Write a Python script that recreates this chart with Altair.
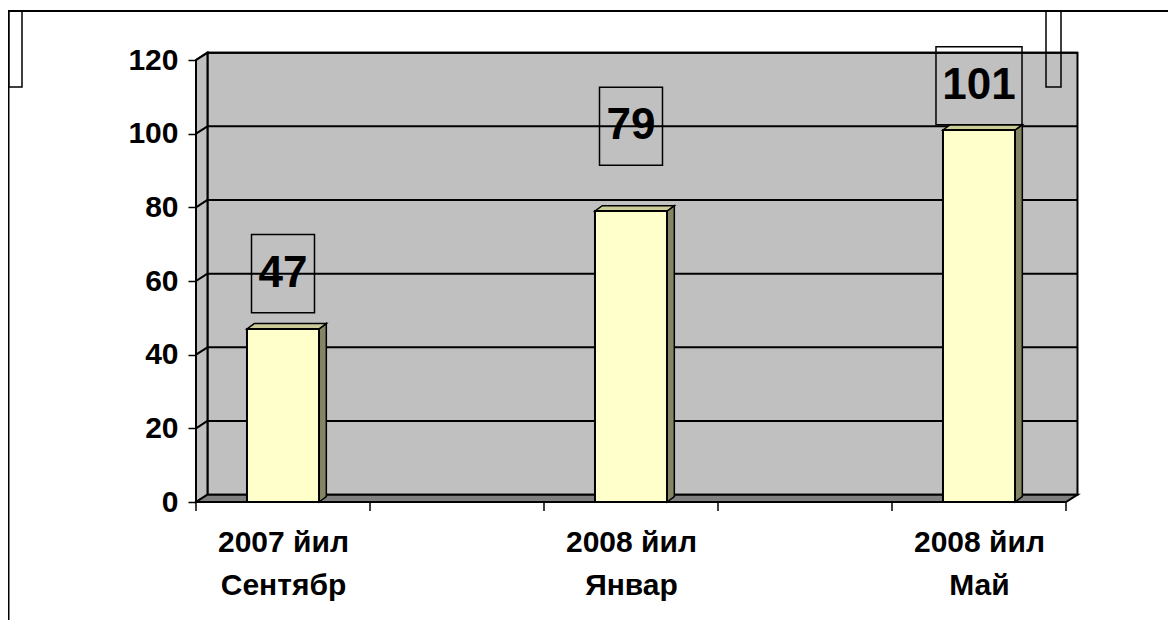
import json
import altair as alt
import pandas as pd

# ---------------- data ----------------
categories = [["2007 йил", "Сентябр"], ["2008 йил", "Январ"], ["2008 йил", "Май"]]
values = [47, 79, 101]
value_labels = ["47", "79", "101"]
y_ticks = [0, 20, 40, 60, 80, 100, 120]
x_tick_marks = [-0.25, 0.25, 0.75, 1.25, 1.75, 2.25]

# ---------------- style ----------------
label_lift = [15, 23, 12]          # label box centre above bar top (value units)
X0, X1 = -0.25, 2.25               # category axis extent (index units)
Y0, Y1 = 0, 120
DX, DY = 0.033, 2.0                # wall depth
HW = 0.1035                        # bar half width
BDX, BDY = 0.021, 1.45             # bar depth
BOX_HH = 10.6
BOX_HW = {2: 0.0905, 3: 0.1236}

W, H = 870, 442
PAD = {"left": 188, "top": 52, "right": 102, "bottom": 118}
FONT = "Liberation Sans"
WALL = "#C0C0C0"
FLOOR = "#808080"
BAR_FRONT = "#FFFFCC"
BAR_TOP = "#CCCC99"
BAR_SIDE = "#858566"

xs = alt.Scale(domain=[X0, X1], nice=False, zero=False)
ys = alt.Scale(domain=[Y0, Y1], nice=False, zero=False)

label_expr = json.dumps(categories, ensure_ascii=False) + "[round(datum.value)]"

XA = alt.Axis(values=[0, 1, 2], labelExpr=label_expr, ticks=False, tickSize=0, domain=False,
              grid=False, title=None, labelFont=FONT, labelFontSize=30, labelFontWeight="bold",
              labelColor="black", labelPadding=25, labelLineHeight=43, labelOverlap=False,
              labelFlush=False)
YA = alt.Axis(values=y_ticks, domain=False, grid=False, title=None, ticks=True, tickSize=8,
              tickColor="black", tickWidth=1.5, labelFont=FONT, labelFontSize=30,
              labelFontWeight="bold", labelColor="black", labelPadding=10,
              labelFlush=False, labelOverlap=False)


def xq(field):
    return alt.X(field, type="quantitative", scale=xs, axis=XA)


def yq(field, **kw):
    return alt.Y(field, type="quantitative", scale=ys, axis=YA, **kw)


# ---------------- derived tables ----------------
def add_poly(rows, name, fill, pts):
    for x, y, y2 in pts:
        rows.append(dict(poly=name, fill=fill, x=x, y=y, y2=y2))


wall_polys = []
add_poly(wall_polys, "left", WALL, [(X0, Y0, Y1), (X0 + DX, Y0 + DY, Y1 + DY)])
add_poly(wall_polys, "floor", FLOOR, [(X0, 0, 0), (X0 + DX, 0, DY), (X1, 0, DY), (X1 + DX, DY, DY)])
wall_df = pd.DataFrame(wall_polys)

back_df = pd.DataFrame([dict(x=X0 + DX, x2=X1 + DX, y=Y0 + DY, y2=Y1 + DY)])

grid_rows = []
for v in y_ticks[1:]:
    grid_rows.append(dict(x=X0 + DX, x2=X1 + DX, y=v + DY, y2=v + DY))
    grid_rows.append(dict(x=X0, x2=X0 + DX, y=v, y2=v + DY))
grid_df = pd.DataFrame(grid_rows)

bar_polys = []
front_rows = []
label_rows = []
for i, (v, lab, lift) in enumerate(zip(values, value_labels, label_lift)):
    add_poly(bar_polys, f"side{i}", BAR_SIDE,
             [(i + HW, 0, v), (i + HW + BDX, BDY, v + BDY)])
    add_poly(bar_polys, f"top{i}", BAR_TOP,
             [(i - HW, v, v), (i - HW + BDX, v, v + BDY),
              (i + HW, v, v + BDY), (i + HW + BDX, v + BDY, v + BDY)])
    front_rows.append(dict(x=i - HW, x2=i + HW, y=0, y2=v))
    cy = v + lift
    hw = BOX_HW[len(lab)]
    label_rows.append(dict(cx=i, cy=cy, bx=i - hw, bx2=i + hw,
                           by=cy - BOX_HH, by2=cy + BOX_HH, label=lab))
bar3d_df = pd.DataFrame(bar_polys)
front_df = pd.DataFrame(front_rows)
label_df = pd.DataFrame(label_rows)
tick_df = pd.DataFrame({"x": x_tick_marks})
one = pd.DataFrame({"a": [0]})

# ---------------- layers ----------------
back = alt.Chart(back_df).mark_rect(fill=WALL, stroke="black", strokeWidth=2).encode(
    x=xq("x"), x2="x2:Q", y=yq("y"), y2="y2:Q")

walls = alt.Chart(wall_df).mark_area(orient="vertical", stroke="black", strokeWidth=2).encode(
    x=xq("x"), y=yq("y", stack=None), y2="y2:Q",
    detail="poly:N", fill=alt.Fill("fill:N", scale=None))

grid = alt.Chart(grid_df).mark_rule(color="black", strokeWidth=2).encode(
    x=xq("x"), x2="x2:Q", y=yq("y"), y2="y2:Q")

xticks = alt.Chart(tick_df).mark_rule(color="black", strokeWidth=1.5).encode(
    x=xq("x"), y=alt.value(H + 1), y2=alt.value(H + 9))

bars3d = alt.Chart(bar3d_df).mark_area(orient="vertical", stroke="black", strokeWidth=1.5).encode(
    x=xq("x"), y=yq("y", stack=None), y2="y2:Q",
    detail="poly:N", fill=alt.Fill("fill:N", scale=None))

fronts = alt.Chart(front_df).mark_rect(fill=BAR_FRONT, stroke="black", strokeWidth=2).encode(
    x=xq("x"), x2="x2:Q", y=yq("y"), y2="y2:Q")

boxes = alt.Chart(label_df).mark_rect(fill="transparent", stroke="black", strokeWidth=1.5).encode(
    x=xq("bx"), x2="bx2:Q", y=yq("by"), y2="by2:Q")

texts = alt.Chart(label_df).mark_text(font=FONT, fontSize=44, fontWeight="bold", color="black",
                                      align="center", baseline="middle").encode(
    x=xq("cx"), y=yq("cy"), text="label:N")

frame_top = alt.Chart(one).mark_rule(color="black", strokeWidth=2).encode(
    x=alt.value(-PAD["left"]), x2=alt.value(W + PAD["right"]), y=alt.value(-49))
frame_left = alt.Chart(one).mark_rule(color="black", strokeWidth=1.5).encode(
    x=alt.value(-PAD["left"] + 0.75), y=alt.value(-49), y2=alt.value(H + PAD["bottom"]))
leg_left = alt.Chart(one).mark_rect(fill="transparent", stroke="black", strokeWidth=1.5).encode(
    x=alt.value(-PAD["left"] + 0.75), x2=alt.value(-174), y=alt.value(-49), y2=alt.value(27))
leg_right = alt.Chart(one).mark_rect(fill="transparent", stroke="black", strokeWidth=1.5).encode(
    x=alt.value(850), x2=alt.value(865), y=alt.value(-49), y2=alt.value(27))

chart = alt.layer(
    back, walls, grid, xticks, bars3d, fronts, boxes, texts,
    frame_top, frame_left, leg_left, leg_right
).properties(
    width=W, height=H, padding=PAD, autosize="none", background="white"
).configure_view(stroke=None)

chart.save("out.html", embed_options={"renderer": "svg", "actions": False})
